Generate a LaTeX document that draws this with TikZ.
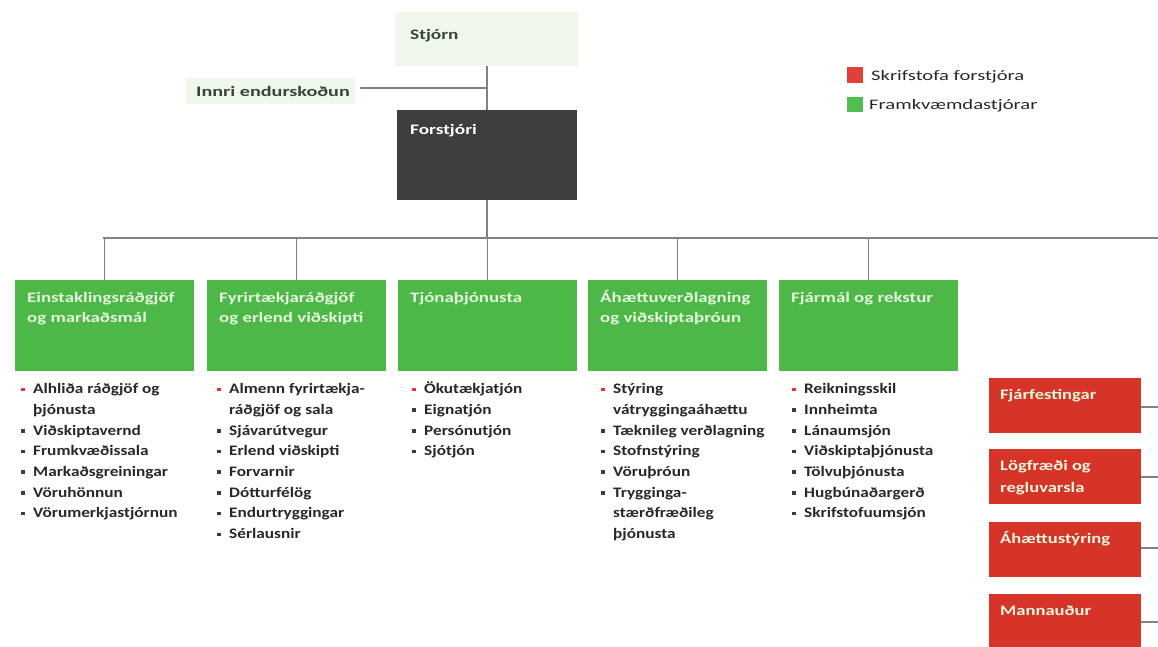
\documentclass[tikz,border=0pt]{standalone}
\usepackage{fontspec}
\setmainfont{Carlito}
\newfontfamily\fA[FakeStretch=1.19]{Carlito}
\newfontfamily\fB[FakeStretch=1.3]{Carlito}
\newfontfamily\fC[FakeStretch=1.33]{Carlito}
\newfontfamily\fD[FakeStretch=1.42]{Carlito}
\newfontfamily\fE[FakeStretch=1.28]{Carlito}
\newfontfamily\fF[FakeStretch=1.39]{Carlito}
\definecolor{gfill}{RGB}{77,183,72}
\definecolor{rfill}{RGB}{214,52,40}
\definecolor{dfill}{RGB}{62,62,62}
\definecolor{lgray}{RGB}{130,130,130}
\definecolor{htext}{RGB}{228,246,220}
\definecolor{ltext}{RGB}{40,40,40}
\definecolor{ttext}{RGB}{55,70,55}
\definecolor{bred}{RGB}{230,50,50}
\definecolor{bgray}{RGB}{60,60,60}
\definecolor{pale}{RGB}{240,248,236}
\definecolor{legred}{RGB}{224,64,60}
\definecolor{leggreen}{RGB}{80,190,80}
\newcommand\rbul{\makebox[12pt][l]{\textcolor{bred}{\rule[2.5pt]{3.5pt}{3.5pt}}}}
\newcommand\gbul{\makebox[12pt][l]{\textcolor{bgray}{\rule[2.5pt]{3.5pt}{3.5pt}}}}
\newcommand\nbul{\hspace*{12pt}}
\begin{document}
\begin{tikzpicture}[x=1pt,y=-1pt,
  box/.style={anchor=north west, inner sep=0pt, outer sep=0pt},
  gbox/.style={box, fill=gfill, minimum width=179pt, minimum height=91pt},
  rbox/.style={box, fill=rfill, minimum width=152pt, minimum height=55pt},
  conn/.style={draw=lgray, line width=1.8pt},
  hdr/.style={anchor=north west, inner sep=0pt, align=left, text=htext, font=\fB\fontsize{14.5}{20}\selectfont\bfseries},
  rhdr/.style={anchor=north west, inner sep=0pt, align=left, text=htext, font=\fE\fontsize{14.5}{22}\selectfont\bfseries},
  lst/.style={anchor=north west, inner sep=0pt, align=left, text=ltext, font=\fA\fontsize{14.5}{20.7}\selectfont\bfseries},
  one/.style={anchor=base west, inner sep=0pt, font=\fC\fontsize{14.5}{17}\selectfont\bfseries},
  leg/.style={anchor=base west, inner sep=0pt, text=ltext, font=\fD\fontsize{14.5}{17}\selectfont}
]
\useasboundingbox (0,0) rectangle (1158,647);
\fill[white] (0,0) rectangle (1158,647);

% top
\node[box, fill=pale, minimum width=183pt, minimum height=54pt] (stjorn) at (395,12) {};
\node[one, text=ttext] (stjornt) at (410,39.5) {Stjórn};
\node[box, fill=pale, minimum width=170pt, minimum height=26pt] (innri) at (185,78) {};
\node[one, text=ttext, font=\fF\fontsize{14.5}{17}\selectfont\bfseries] (innrit) at (196,96.5) {Innri endurskoðun};
\node[box, fill=dfill, minimum width=180pt, minimum height=90pt] (forstjori) at (397,110) {};
\node[one, text=white] (forstjorit) at (410,134.5) {Forstjóri};
\coordinate (junc) at (487,88);

\draw[conn] (stjorn.south -| forstjori.north) -- (forstjori.north);
\draw[conn] ([xshift=5pt]innri.east |- junc) -- (junc);

% legend
\node[box, fill=legred, minimum width=16pt, minimum height=16pt] (legR) at (847,67) {};
\node[leg] (legRt) at (871,80.5) {Skrifstofa forstjóra};
\node[box, fill=leggreen, minimum width=16pt, minimum height=15pt] (legG) at (847,97) {};
\node[leg] (legGt) at (869,109.5) {Framkvæmdastjórar};

% green boxes
\node[gbox] (g1) at (15,280) {};
\node[gbox] (g2) at (207,280) {};
\node[gbox] (g3) at (398,280) {};
\node[gbox] (g4) at (588,280) {};
\node[gbox] (g5) at (779,280) {};

\node[hdr] (g1t) at (27,288) {\strut Einstaklingsráðgjöf\\og markaðsmál};
\node[hdr] (g2t) at (219,288) {\strut Fyrirtækjaráðgjöf\\og erlend viðskipti};
\node[hdr] (g3t) at (410,288) {\strut Tjónaþjónusta};
\node[hdr] (g4t) at (600,288) {\strut Áhættuverðlagning\\og viðskiptaþróun};
\node[hdr] (g5t) at (791,288) {\strut Fjármál og rekstur};

% bus
\coordinate (busL) at (103,238);
\coordinate (busR) at (1160,238);
\draw[conn] (busL) -- (busR);
\draw[conn] (forstjori.south) -- (forstjori.south |- busL);
\draw[conn] (g1.north) -- (g1.north |- busL);
\draw[conn] (g2.north) -- (g2.north |- busL);
\draw[conn] (g3.north) -- (g3.north |- busL);
\draw[conn] (g4.north) -- (g4.north |- busL);
\draw[conn] (g5.north) -- (g5.north |- busL);

% lists
\node[lst] (l1) at (21,379) {\strut\rbul Alhliða ráðgjöf og\\\nbul þjónusta\\\gbul Viðskiptavernd\\\gbul Frumkvæðissala\\\gbul Markaðsgreiningar\\\gbul Vöruhönnun\\\gbul Vörumerkjastjórnun};
\node[lst] (l2) at (217,379) {\strut\rbul Almenn fyrirtækja-\\\nbul ráðgjöf og sala\\\gbul Sjávarútvegur\\\gbul Erlend viðskipti\\\gbul Forvarnir\\\gbul Dótturfélög\\\gbul Endurtryggingar\\\gbul Sérlausnir};
\node[lst] (l3) at (412,379) {\strut\rbul Ökutækjatjón\\\gbul Eignatjón\\\gbul Persónutjón\\\gbul Sjótjón};
\node[lst] (l4) at (601,379) {\strut\rbul Stýring\\\nbul vátryggingaáhættu\\\gbul Tæknileg verðlagning\\\gbul Stofnstýring\\\gbul Vöruþróun\\\gbul Trygginga-\\\nbul stærðfræðileg\\\nbul þjónusta};
\node[lst] (l5) at (792,379) {\strut\rbul Reikningsskil\\\gbul Innheimta\\\gbul Lánaumsjón\\\gbul Viðskiptaþjónusta\\\gbul Tölvuþjónusta\\\gbul Hugbúnaðargerð\\\gbul Skrifstofuumsjón};

% red boxes
\node[rbox] (r1) at (989,378) {};
\node[rbox] (r2) at (989,449) {};
\node[rbox] (r3) at (989,522) {};
\node[rbox, minimum height=60pt] (r4) at (989,594) {};
\node[rhdr] (r1t) at (1000,384) {\strut Fjárfestingar};
\node[rhdr] (r2t) at (1000,455) {\strut Lögfræði og\\regluvarsla};
\node[rhdr] (r3t) at (1000,528) {\strut Áhættustýring};
\node[rhdr] (r4t) at (1000,600) {\strut Mannauður};
\coordinate (e1) at (1160,407);
\coordinate (e2) at (1160,477);
\coordinate (e3) at (1160,548);
\coordinate (e4) at (1160,622);
\draw[conn] (r1.east |- e1) -- (e1);
\draw[conn] (r2.east |- e2) -- (e2);
\draw[conn] (r3.east |- e3) -- (e3);
\draw[conn] (r4.east |- e4) -- (e4);
\end{tikzpicture}
\end{document}
